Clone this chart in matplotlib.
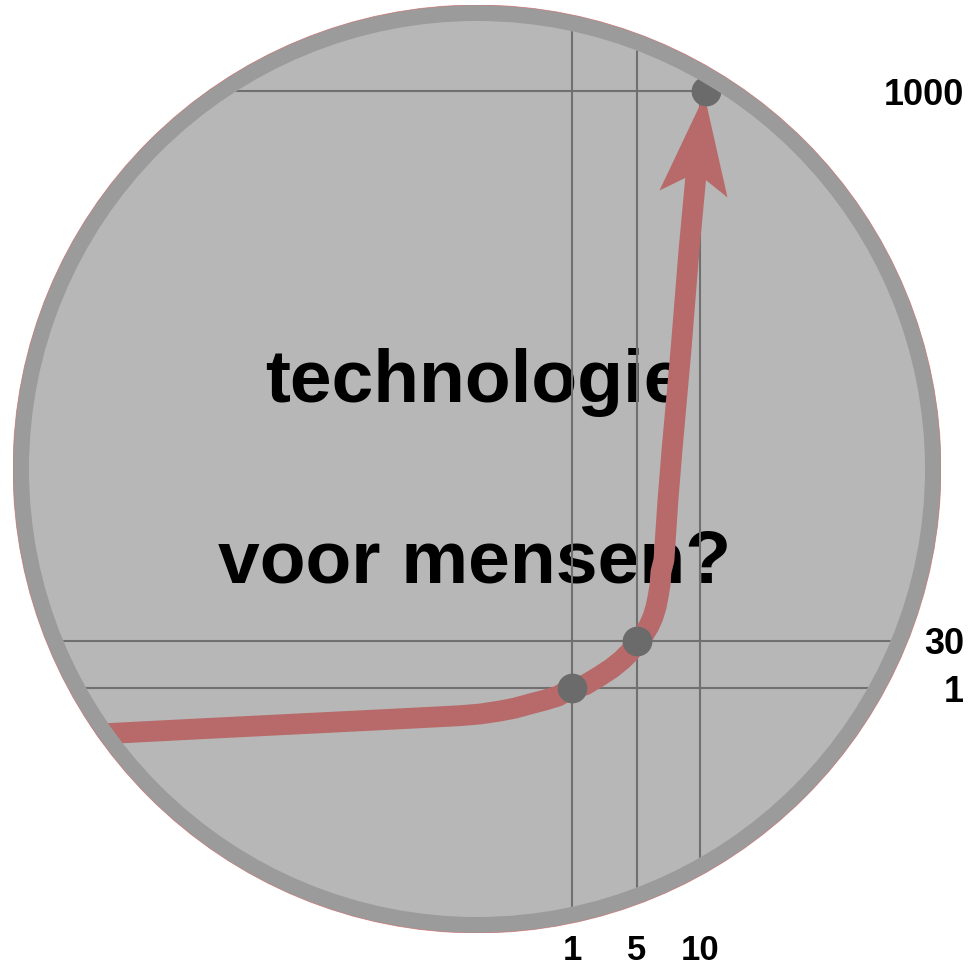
import numpy as np
import matplotlib.pyplot as plt
from matplotlib.patches import Circle
from matplotlib.path import Path

# tick values and labels
x_ticks = [1, 5, 10]
y_ticks = [1, 30, 1000]
x_labels = ["1", "5", "10"]
y_labels = ["1", "30", "1000"]

# marked points
pts_x = [1, 5, 10.5]
pts_y = [1, 30, 1000]

# the red growth curve
curve_x = [0.05, 0.34, 0.69, 0.80, 0.836, 0.871, 0.898, 0.925, 0.952, 0.975,
           1.0, 1.8, 2.72, 3.46, 4.08, 4.57, 5.0, 5.56, 5.95, 6.27, 6.51,
           6.67, 6.83, 6.90, 7.14, 7.46, 7.78, 8.49, 9.13, 9.76]
curve_y = [0.80, 0.834, 0.874, 0.887, 0.894, 0.906, 0.918, 0.935, 0.951, 0.967,
           1.0, 2.85, 8.4, 13.3, 18.3, 23.2, 30.0, 42.3, 56.5, 72.3, 90.0,
           107.6, 128.8, 151.7, 173.0, 279.0, 367.0, 543.0, 720.0, 870.0]

# schematic (non-linear) axis scales: value -> fraction of axis
x_scale_vals = [0, 1, 5, 10, 30]
x_scale_pos = [0, 0.6024, 0.6724, 0.7403, 1.0]
y_scale_vals = [0, 1, 30, 1000, 1150]
y_scale_pos = [0, 0.2640, 0.3147, 0.9073, 1.0]


def fwd_x(v):
    return np.interp(v, x_scale_vals, x_scale_pos)


def inv_x(p):
    return np.interp(p, x_scale_pos, x_scale_vals)


def fwd_y(v):
    return np.interp(v, y_scale_vals, y_scale_pos)


def inv_y(p):
    return np.interp(p, y_scale_pos, y_scale_vals)


fill_color = "#b7b7b7"
ring_color = "#9b9b9b"
grid_color = "#707070"
curve_color = "#b86a6a"
point_color = "#6b6b6b"
font = "Liberation Sans"

fig = plt.figure(figsize=(9.76, 9.68), dpi=100)
ax = fig.add_axes([13 / 976, 35 / 968, 928 / 976, 928 / 968])
ax.set_facecolor("none")

ax.set_xscale("function", functions=(fwd_x, inv_x))
ax.set_yscale("function", functions=(fwd_y, inv_y))
ax.set_xlim(0, 30)
ax.set_ylim(0, 1150)

for s in ax.spines.values():
    s.set_visible(False)

# circle background
disc = Circle((0.5, 0.5), 0.5, transform=ax.transAxes, fc=fill_color,
              ec="none", zorder=0)
ax.add_patch(disc)
inner = Circle((0.5, 0.5), 0.4828, transform=ax.transAxes)

# big text (drawn under the grid)
ax.text(0.4978, 0.5722, "technologie", transform=ax.transAxes,
        ha="center", va="baseline", fontsize=54, fontweight="bold",
        family=font, zorder=1)
ax.text(0.4978, 0.3782, "voor mensen?", transform=ax.transAxes,
        ha="center", va="baseline", fontsize=54, fontweight="bold",
        family=font, zorder=1)

# grid lines
for xv in x_ticks:
    ln = ax.axvline(xv, color=grid_color, lw=1.5, zorder=2)
    ln.set_clip_path(inner)
for yv in y_ticks:
    ln = ax.axhline(yv, color=grid_color, lw=1.5, zorder=2)
    ln.set_clip_path(inner)

# curve
line, = ax.plot(curve_x, curve_y, color=curve_color, lw=15,
                solid_capstyle="butt", solid_joinstyle="round", zorder=3)
line.set_clip_path(disc)

# arrow head as a marker shape (relative to the top point, pixels)
head_verts = [(-2, -4), (21, -106), (-10, -81), (-47, -99), (-2, -4)]
head_codes = [Path.MOVETO, Path.LINETO, Path.LINETO, Path.LINETO, Path.CLOSEPOLY]
head = Path(head_verts, head_codes)
ax.plot(pts_x[-1:], pts_y[-1:], marker=head, ms=2 * 106 * 0.72,
        color=curve_color, mew=0, ls="none", zorder=3)

# points
ax.scatter(pts_x, pts_y, s=460, color=point_color, lw=0, zorder=4)

# ring border on top
ring = Circle((0.5, 0.5), 0.5 - 8 / 928, transform=ax.transAxes,
              fill=False, ec=ring_color, lw=11.5, zorder=5)
ax.add_patch(ring)
edge = Circle((0.5, 0.5), 0.5, transform=ax.transAxes, fill=False,
              ec="#d86a6a", lw=0.6, alpha=0.6, zorder=6)
ax.add_patch(edge)

# tick labels
ax.set_xticks(x_ticks)
ax.set_xticklabels(x_labels, fontsize=25, fontweight="bold", family=font)
ax.yaxis.tick_right()
ax.set_yticks(y_ticks)
ax.set_yticklabels(y_labels, fontsize=26, fontweight="bold", family=font)
for lab in ax.get_yticklabels():
    lab.set_horizontalalignment("right")
ax.tick_params(axis="x", length=0, pad=0.8)
ax.tick_params(axis="y", length=0, pad=16.5)
ax.minorticks_off()

fig.savefig("out.png", dpi=100)
